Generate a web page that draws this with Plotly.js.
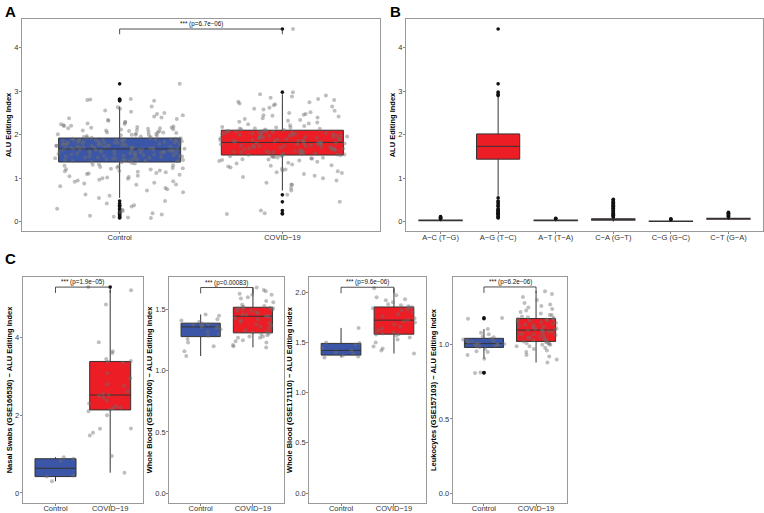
<!DOCTYPE html>
<html><head><meta charset="utf-8">
<script src="https://cdn.plot.ly/plotly-3.0.1.min.js"></script>
<style>html,body{margin:0;padding:0;background:#fff}#chart{width:764px;height:513px}</style>
</head><body><div id="chart"></div>
<script>
// ---------- DATA ----------
const groups = ['Control', 'COVID\u221219'];

// Panel A: ALU editing index per sample
const aControl = [0.09,0.1,0.12,0.14,0.17,0.2,0.22,0.25,0.28,0.3,0.35,0.38,0.42,0.48,0.55,
0.6,0.63,0.68,0.72,0.75,0.78,0.82,0.85,0.86,0.88,0.9,0.92,0.93,0.95,0.97,0.99,1.0,1.02,1.03,1.05,1.06,1.08,1.1,1.11,1.12,1.14,1.15,1.16,1.17,1.18,1.2,1.21,1.22,1.23,1.24,1.25,1.26,1.28,1.29,1.3,1.31,1.32,1.34,1.35,1.37,
1.38,1.39,1.4,1.4,1.41,1.42,1.42,1.43,1.44,1.44,1.45,1.46,1.46,1.47,1.48,1.48,1.49,1.5,1.5,1.51,1.52,1.52,1.53,1.54,1.54,1.55,1.55,1.56,1.57,1.57,1.58,1.58,1.59,1.6,1.6,1.61,1.61,1.62,1.62,1.63,1.63,1.64,1.64,1.65,1.65,1.66,1.66,1.66,1.67,1.67,1.39,1.41,1.43,1.47,1.51,1.53,1.56,1.59,1.62,1.65,
1.68,1.68,1.69,1.69,1.7,1.7,1.71,1.71,1.72,1.72,1.73,1.73,1.74,1.74,1.75,1.75,1.76,1.76,1.77,1.77,1.78,1.78,1.79,1.79,1.8,1.8,1.81,1.81,1.82,1.82,1.83,1.83,1.84,1.84,1.85,1.85,1.86,1.86,1.87,1.87,1.88,1.88,1.89,1.89,1.9,1.9,1.91,1.91,1.92,1.92,1.7,1.73,1.76,1.79,1.81,1.84,1.86,1.88,1.9,1.71,
1.93,1.94,1.95,1.96,1.97,1.98,1.99,2.0,2.0,2.01,2.02,2.03,2.04,2.05,2.06,2.07,2.08,2.09,2.1,2.11,2.12,2.13,2.14,2.15,2.16,2.17,2.18,2.19,2.2,2.21,2.22,2.24,2.26,2.28,2.3,2.32,2.34,2.36,2.38,2.4,2.42,2.45,2.48,2.5,2.53,2.56,2.6,2.63,2.65,1.95,2.0,2.05,2.1,2.15,2.25,2.78,2.8,2.81,2.82,3.17];
const aCovid = [0.18,0.2,0.26,0.46,0.62,
0.72,0.78,0.85,0.86,0.9,0.95,1.0,1.03,1.06,1.1,1.12,1.14,1.16,1.18,1.2,1.22,1.25,1.27,1.29,1.3,1.32,1.34,1.36,1.38,1.4,1.41,1.42,1.43,1.44,1.45,1.46,1.47,1.48,1.49,1.5,1.5,1.51,1.52,1.52,1.53,
1.54,1.55,1.56,1.57,1.58,1.59,1.6,1.61,1.62,1.63,1.64,1.65,1.66,1.67,1.68,1.69,1.7,1.71,1.72,1.73,1.74,1.75,1.76,1.77,1.78,1.79,1.8,1.81,1.82,1.55,1.58,1.6,1.63,1.66,1.69,1.72,1.75,1.78,1.8,1.81,1.57,1.62,1.68,1.74,1.79,
1.83,1.84,1.85,1.86,1.87,1.88,1.89,1.9,1.91,1.92,1.93,1.94,1.95,1.96,1.97,1.98,1.99,2.0,2.01,2.02,2.03,2.04,2.05,2.06,2.07,2.08,2.09,2.1,1.84,1.87,1.9,1.93,1.96,1.99,2.02,2.05,2.08,1.86,1.92,1.98,2.04,2.09,1.88,1.95,2.0,
2.11,2.12,2.13,2.14,2.15,2.16,2.17,2.18,2.2,2.22,2.24,2.26,2.28,2.3,2.32,2.34,2.36,2.38,2.4,2.42,2.44,2.46,2.48,2.5,2.52,2.55,2.58,2.6,2.62,2.65,2.68,2.7,2.72,2.75,2.76,2.8,2.82,2.85,2.88,2.9,2.93,2.98,4.43,2.14,2.45];
const pA = '*** (p=6.7e\u221206)';

// Panel B: substitution types
const subCats = ['A\u2212C (T\u2212G)','A\u2212G (T\u2212C)','A\u2212T (T\u2212A)','C\u2212A (G\u2212T)','C\u2212G (G\u2212C)','C\u2212T (G\u2212A)'];
const bOtherIdx = [0, 2, 3, 4, 5];   // A-C, A-T, C-A, C-G, C-T
const bQ1  = [0.025, 0.025, 0.04, 0.01, 0.06];
const bMed = [0.03, 0.035, 0.05, 0.015, 0.07];
const bQ3  = [0.04, 0.04, 0.07, 0.02, 0.08];
const bLo  = [0.01, 0.01, 0.01, 0.0, 0.04];
const bHi  = [0.06, 0.06, 0.1, 0.03, 0.1];
const bOutAC = [0.07,0.08,0.09,0.1,0.11,0.12];
const bOutAT = [0.07,0.075,0.08];
const bOutCA = [0.11,0.12,0.14,0.15,0.17,0.18,0.2,0.21,0.23,0.25,0.26,0.28,0.3,0.31,0.33,0.35,0.36,0.38,0.4,0.41,0.43,0.45,0.46,0.48,0.5,0.52];
const bOutCG = [0.05,0.06,0.07];
const bOutCT = [0.11,0.13,0.15,0.17,0.19,0.2,0.22];

// Panel C: individual cohorts
const cTitles = ['Nasal Swabs (GSE166530) \u2212 ALU Editing Index','Whole Blood (GSE167000) \u2212 ALU Editing Index','Whole Blood (GSE171110) \u2212 ALU Editing Index','Leukocytes (GSE157103) \u2212 ALU Editing Index'];
const cP = ['*** (p=1.9e\u221205)','*** (p=0.00083)','*** (p=9.6e\u221206)','*** (p=6.2e\u221206)'];
const nasalCtrl = [0.3,0.42,0.45,0.82,0.88,0.92];
const nasalCovid = [0.52,0.95,1.48,1.55,1.65,1.66,2.0,2.1,2.15,2.18,2.2,2.24,2.3,2.38,2.45,2.5,2.52,2.55,2.62,2.75,2.8,2.95,3.08,3.35,3.38,3.4,3.45,3.6,3.65,3.88,4.85,5.22,5.3];
const wb1Ctrl = [1.12,1.16,1.2,1.23,1.26,1.285,1.3,1.32,1.34,1.35,1.358,1.36,1.37,1.375,1.38,1.385,1.4,1.41,1.42,1.45,1.46];
const wb1Covid = [1.19,1.2,1.21,1.23,1.24,1.25,1.27,1.27,1.28,1.28,1.29,1.3,1.305,1.311,1.32,1.33,1.35,1.36,1.37,1.38,1.39,1.4,1.41,1.42,1.43,1.44,1.445,1.45,1.46,1.46,1.47,1.48,1.49,1.49,1.5,1.5,1.51,1.51,1.515,1.518,1.52,1.53,1.54,1.56,1.57,1.59,1.6,1.62,1.62,1.63,1.65,1.66,1.68];
const wb2Ctrl = [1.35,1.36,1.37,1.386,1.4,1.421,1.44,1.48,1.494,1.5,1.645];
const wb2Covid = [1.39,1.42,1.44,1.46,1.5,1.53,1.55,1.57,1.58,1.583,1.59,1.6,1.62,1.64,1.66,1.68,1.7,1.71,1.722,1.74,1.76,1.78,1.8,1.82,1.83,1.84,1.85,1.851,1.86,1.87,1.88,1.9,1.92,1.93,1.95,1.97,2.04];
const leukCtrl = [0.81,0.812,0.906,0.93,0.95,0.955,0.97,0.985,0.99,0.995,1.0,1.0,1.002,1.005,1.007,1.01,1.015,1.02,1.025,1.03,1.035,1.04,1.05,1.055,1.07,1.08,1.105,1.175,1.18];
const leukCovid = [0.88,0.9,0.92,0.93,0.95,0.96,0.97,0.98,0.99,0.99,1.0,1.0,1.005,1.01,1.01,1.015,1.02,1.022,1.03,1.035,1.04,1.045,1.05,1.055,1.06,1.065,1.07,1.07,1.075,1.08,1.085,1.09,1.09,1.095,1.098,1.1,1.105,1.11,1.115,1.12,1.125,1.13,1.135,1.14,1.145,1.15,1.155,1.16,1.165,1.17,1.172,1.174,1.18,1.185,1.19,1.2,1.2,1.21,1.22,1.23,1.24,1.25,1.26,1.27,1.28,1.3,1.32,1.34,1.36];

// ---------- STYLE ----------
const BLUE = '#3B56A7', RED = '#EC1D24', EDGE = '#333333', FRAME = '#9a9a9a';
const FONT = 'Liberation Sans, Arial, Helvetica, sans-serif';
const W = 764, H = 513;
const px = v => v / W, py = v => 1 - v / H;

// deterministic horizontal jitter (like geom_jitter, width 0.4 each side)
function jit(k, seed) { const s = Math.sin((k + 1) * 12.9898 + seed * 78.233) * 43758.5453; return s - Math.floor(s); }
let seedCounter = 1;

function boxTraces(xa, ya, idx, vals, fill) {
  const seed = seedCounter++;
  return [
    {type:'box', xaxis:xa, yaxis:ya, x:vals.map(() => idx), y:vals, width:0.75, fillcolor:fill,
     line:{color:EDGE, width:1}, whiskerwidth:0, boxpoints:'outliers', jitter:0, pointpos:0,
     marker:{color:'#111', size:3.6}, showlegend:false, hoverinfo:'y'},
    {type:'scatter', mode:'markers', xaxis:xa, yaxis:ya,
     x:vals.map((v, k) => idx + (jit(k, seed) - 0.5) * 0.8), y:vals,
     marker:{color:'rgba(110,110,110,0.45)', size:4}, showlegend:false, hoverinfo:'y'}
  ];
}

let traces = [];
traces = traces.concat(boxTraces('x','y',0,aControl,BLUE), boxTraces('x','y',1,aCovid,RED));

// Panel B
const allAG = aControl.concat(aCovid);
traces.push({type:'box', xaxis:'x2', yaxis:'y2', x:allAG.map(() => 1), y:allAG, width:0.75, fillcolor:RED,
  line:{color:EDGE,width:1}, whiskerwidth:0, boxpoints:'outliers', jitter:0, pointpos:0,
  marker:{color:'#111', size:3.6}, showlegend:false});
traces.push({type:'box', xaxis:'x2', yaxis:'y2', x:bOtherIdx, q1:bQ1, median:bMed, q3:bQ3, lowerfence:bLo, upperfence:bHi,
  width:0.75, fillcolor:RED, line:{color:EDGE,width:1.2}, whiskerwidth:0, showlegend:false});
const bOuts = [bOutAC, bOutAT, bOutCA, bOutCG, bOutCT];
let ox = [], oy = [];
bOuts.forEach((arr, i) => arr.forEach(v => { ox.push(bOtherIdx[i]); oy.push(v); }));
traces.push({type:'scatter', mode:'markers', xaxis:'x2', yaxis:'y2', x:ox, y:oy, marker:{color:'#111', size:3.6}, showlegend:false});

// Panel C
const cData = [[nasalCtrl,nasalCovid],[wb1Ctrl,wb1Covid],[wb2Ctrl,wb2Covid],[leukCtrl,leukCovid]];
cData.forEach((d, i) => {
  const xa = 'x' + (i + 3), ya = 'y' + (i + 3);
  traces = traces.concat(boxTraces(xa, ya, 0, d[0], BLUE), boxTraces(xa, ya, 1, d[1], RED));
});

// ---------- LAYOUT ----------
const tickFont = {family:FONT, size:7.5, color:'#333'};
const titleFont = {family:FONT, size:7.5, color:'#000', weight:'bold'};
function xAx(dom, cats, yname, lso) {
  return {domain:dom, anchor:yname, type:'linear', tickmode:'array', tickvals:cats.map((c, i) => i), ticktext:cats,
    range:[-0.6, cats.length - 0.4], showline:true, mirror:true, linecolor:FRAME, linewidth:1,
    showgrid:false, zeroline:false, ticks:'outside', ticklen:2, tickcolor:'#333', tickwidth:0.6, tickfont:tickFont,
    ticklabelstandoff:lso};
}
function yAx(dom, range, dtick, fmt, title, xname) {
  return {domain:dom, anchor:xname, range:range, dtick:dtick, tick0:0, tickformat:fmt, showline:true, mirror:true,
    linecolor:FRAME, linewidth:1, showgrid:false, zeroline:false, ticks:'outside', ticklen:2, tickcolor:'#333',
    tickwidth:0.6, tickfont:tickFont, ticklabelstandoff:-1, title:{text:title, font:titleFont, standoff:1}};
}
const yTop = [py(231), py(19)];
const yBot = [py(503), py(277)];

const layout = {
  width:W, height:H, margin:{l:0, r:0, t:0, b:0}, paper_bgcolor:'#fff', plot_bgcolor:'#fff',
  boxmode:'overlay', showlegend:false, font:{family:FONT},
  xaxis:xAx([px(22), px(380)], groups, 'y', -3),
  yaxis:yAx(yTop, [-0.21, 4.66], 1, 'd', 'ALU Editing Index', 'x'),
  xaxis2:xAx([px(406), px(763)], subCats, 'y2', -3),
  yaxis2:yAx(yTop, [-0.21, 4.66], 1, 'd', 'ALU Editing Index', 'x2'),
  xaxis3:xAx([px(22.7), px(143)], groups, 'y3', -4),
  yaxis3:yAx(yBot, [-0.26, 5.56], 2, 'd', cTitles[0], 'x3'),
  xaxis4:xAx([px(169.3), px(284.3)], groups, 'y4', -4),
  yaxis4:yAx(yBot, [-0.081, 1.766], 0.5, '.1f', cTitles[1], 'x4'),
  xaxis5:xAx([px(309.3), px(425.7)], groups, 'y5', -4),
  yaxis5:yAx(yBot, [-0.099, 2.152], 0.5, '.1f', cTitles[2], 'x5'),
  xaxis6:xAx([px(452.7), px(567.3)], groups, 'y6', -4),
  yaxis6:yAx(yBot, [-0.065, 1.455], 0.5, '.1f', cTitles[3], 'x6'),
  shapes:[], annotations:[]
};

// significance brackets
const brackets = [
  {xr:'x', yr:'y', y:4.43, tip:0.12, text:pA},
  {xr:'x3', yr:'y3', y:5.3, tip:0.15, text:cP[0]},
  {xr:'x4', yr:'y4', y:1.68, tip:0.048, text:cP[1]},
  {xr:'x5', yr:'y5', y:2.05, tip:0.06, text:cP[2]},
  {xr:'x6', yr:'y6', y:1.388, tip:0.04, text:cP[3]}
];
brackets.forEach(b => {
  const ln = {color:'#222', width:0.8};
  layout.shapes.push({type:'line', xref:b.xr, yref:b.yr, x0:0, x1:1, y0:b.y, y1:b.y, line:ln});
  layout.shapes.push({type:'line', xref:b.xr, yref:b.yr, x0:0, x1:0, y0:b.y - b.tip, y1:b.y, line:ln});
  layout.shapes.push({type:'line', xref:b.xr, yref:b.yr, x0:1, x1:1, y0:b.y - b.tip, y1:b.y, line:ln});
  layout.annotations.push({xref:b.xr, yref:b.yr, x:0.5, y:b.y, yanchor:'bottom', yshift:-1, showarrow:false,
    text:b.text, font:{family:FONT, size:6.3, color:'#111'}});
});

// panel letters
[['A', 3, 1], ['B', 388, 1], ['C', 3, 248]].forEach(l => {
  layout.annotations.push({xref:'paper', yref:'paper', x:px(l[1]), y:py(l[2]), xanchor:'left', yanchor:'top',
    showarrow:false, text:'<b>' + l[0] + '</b>', font:{family:FONT, size:15, color:'#000'}});
});

Plotly.newPlot('chart', traces, layout, {staticPlot:true});
</script>
</body></html>
